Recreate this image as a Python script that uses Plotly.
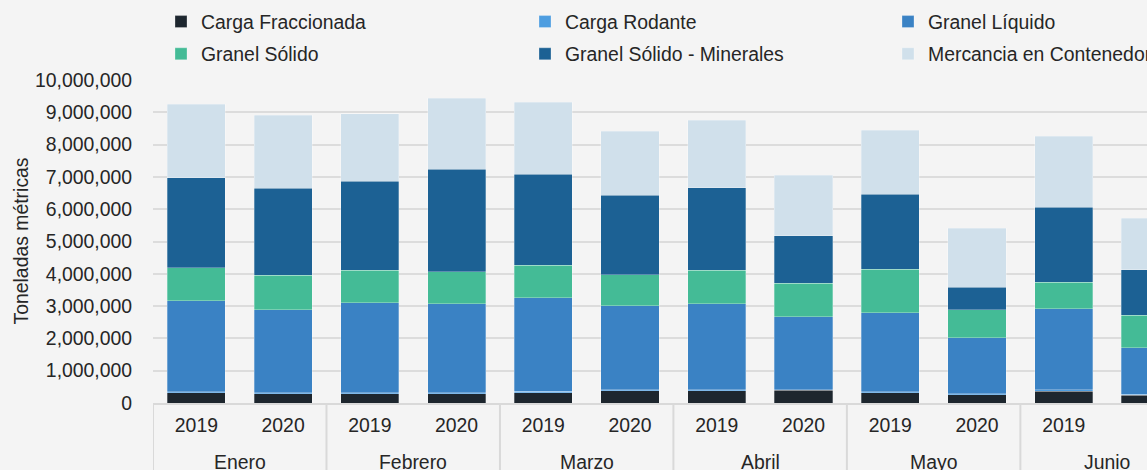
import plotly.graph_objects as go

months = ["Enero", "Enero", "Febrero", "Febrero", "Marzo", "Marzo",
          "Abril", "Abril", "Mayo", "Mayo", "Junio", "Junio"]
years = ["2019", "2020"] * 6
month_names = ["Enero", "Febrero", "Marzo", "Abril", "Mayo", "Junio"]

carga_fraccionada = [310000, 279000, 289000, 289000, 310000, 382000,
                     372000, 393000, 310000, 258000, 362000, 238000]
carga_rodante = [31000, 31000, 31000, 31000, 52000, 31000,
                 31000, 20000, 41000, 31000, 41000, 31000]
granel_liquido = [2820000, 2572000, 2779000, 2748000, 2892000, 2593000,
                  2665000, 2252000, 2449000, 1725000, 2510000, 1436000]
granel_solido = [1033000, 1075000, 1013000, 1002000, 1013000, 971000,
                 1044000, 1044000, 1343000, 879000, 827000, 1012000]
granel_minerales = [2779000, 2686000, 2748000, 3161000, 2820000, 2449000,
                    2551000, 1467000, 2314000, 692000, 2314000, 1405000]
mercancia_contenedor = [2283000, 2272000, 2097000, 2211000, 2231000, 1983000,
                        2087000, 1880000, 1993000, 1828000, 2200000, 1601000]

# (name, values, colour, legend column)
series = [
    ("Carga Fraccionada", carga_fraccionada, "#1d262e", "legend"),
    ("Carga Rodante", carga_rodante, "#4d9de0", "legend2"),
    ("Granel Líquido", granel_liquido, "#3a82c4", "legend3"),
    ("Granel Sólido", granel_solido, "#44bb96", "legend"),
    ("Granel Sólido - Minerales", granel_minerales, "#1c6194", "legend2"),
    ("Mercancia en Contenedor", mercancia_contenedor, "#d0e0eb", "legend3"),
]

FONT = "Liberation Sans, Arial, sans-serif"
TXT = "#262626"
FS = 19.4
GRID = "#dcdcdc"

cats = [f"{m} {y}" for m, y in zip(months, years)]

fig = go.Figure()
for i, (name, vals, color, leg) in enumerate(series):
    fig.add_trace(go.Bar(
        x=cats, y=vals, name=name, legend=leg, legendgroup=f"g{i}",
        marker=dict(color=color, line=dict(color="rgba(255,255,255,0.35)", width=0.8)),
    ))

# month group labels and dividers
for k, m in enumerate(month_names):
    fig.add_annotation(x=2 * k + 0.5, xref="x", y=0, yref="paper", yshift=-59,
                       text=m, showarrow=False, yanchor="middle",
                       font=dict(family=FONT, size=FS, color=TXT))
for k in range(len(month_names) + 1):
    fig.add_shape(type="line", xref="x", yref="paper", x0=2 * k - 0.5, x1=2 * k - 0.5,
                  y0=0, y1=-0.3, line=dict(color="#d9d9d9", width=2), layer="below")

# y-axis title
fig.add_annotation(x=0, xref="paper", xshift=-133, y=0.5, yref="paper",
                   text="Toneladas métricas", textangle=-90, showarrow=False,
                   xanchor="center", yanchor="middle",
                   font=dict(family=FONT, size=FS, color=TXT))

leg_common = dict(orientation="v", yref="paper", y=1.240, yanchor="top", xanchor="left",
                  xref="container", traceorder="grouped", tracegroupgap=4,
                  font=dict(family=FONT, size=FS, color=TXT), itemwidth=30,
                  bgcolor="rgba(0,0,0,0)")

fig.update_layout(
    barmode="stack",
    bargap=0.33,
    width=1147, height=470,
    paper_bgcolor="#f4f4f4", plot_bgcolor="#f4f4f4",
    margin=dict(l=153, r=0, t=80, b=67, autoexpand=False),
    font=dict(family=FONT, size=FS, color=TXT),
    showlegend=True,
    legend=dict(x=161 / 1147, **leg_common),
    legend2=dict(x=525 / 1147, **leg_common),
    legend3=dict(x=888 / 1147, **leg_common),
    yaxis=dict(range=[0, 10000000], dtick=1000000, tickformat=",d",
               showgrid=True, gridcolor=GRID, gridwidth=2,
               zeroline=False, showline=False,
               ticks="outside", ticklen=16, tickcolor="rgba(0,0,0,0)",
               tickfont=dict(size=FS, color=TXT)),
    xaxis=dict(type="category", range=[-0.5, 10.96],
               tickvals=cats, ticktext=years, ticks="", ticklabelstandoff=4,
               showline=True, linecolor="#d9d9d9", linewidth=2, showgrid=False,
               tickfont=dict(size=FS, color=TXT)),
)

fig.write_html(
    "out.html",
    config={"displayModeBar": False},
    post_script="document.body.style.margin='0';document.body.style.padding='0';"
                "document.body.style.overflow='hidden';",
)
